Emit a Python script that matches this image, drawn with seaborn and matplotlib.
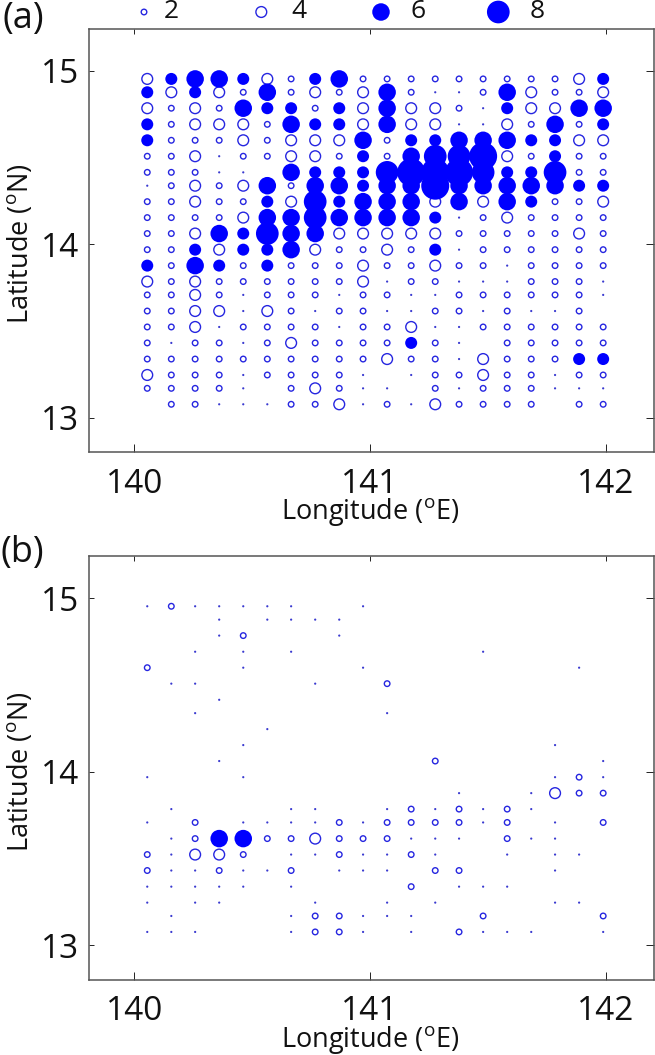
import matplotlib
matplotlib.use("Agg")
import matplotlib.pyplot as plt
import pandas as pd
import seaborn as sns

sns.set_style("white")
plt.rcParams["font.family"] = ["Open Sans", "DejaVu Sans"]
plt.rcParams["mathtext.default"] = "regular"

lons = [140.055, 140.157, 140.258, 140.360, 140.462, 140.564, 140.665, 140.767, 140.869, 140.970,
        141.072, 141.174, 141.276, 141.377, 141.479, 141.581, 141.683, 141.784, 141.886, 141.988]
lats = [14.954, 14.877, 14.785, 14.692, 14.600, 14.508, 14.415, 14.338, 14.246, 14.154, 14.062,
        13.969, 13.877, 13.785, 13.708, 13.615, 13.523, 13.431, 13.338, 13.246, 13.169, 13.077]

# magnitude per grid cell, top row first (0 = nothing there)
counts_a = [
    [4, 5, 6, 6, 5, 4, 2, 5, 6, 2, 2, 2, 2, 2, 2, 2, 2, 2, 4, 5],
    [5, 4, 5, 4, 2, 6, 2, 4, 2, 4, 6, 2, 1, 1, 2, 6, 4, 2, 2, 4],
    [4, 2, 4, 2, 6, 5, 5, 2, 5, 4, 6, 4, 4, 2, 1, 5, 4, 4, 6, 6],
    [5, 2, 4, 4, 4, 2, 6, 5, 5, 4, 6, 4, 4, 1, 1, 4, 2, 6, 2, 5],
    [5, 2, 2, 2, 4, 2, 4, 4, 4, 6, 2, 5, 5, 6, 6, 6, 5, 5, 4, 4],
    [2, 2, 4, 1, 2, 2, 4, 4, 2, 5, 2, 6, 8, 8, 10, 4, 2, 5, 2, 2],
    [2, 2, 2, 1, 1, 0, 6, 5, 5, 5, 8, 10, 10, 10, 8, 5, 5, 8, 2, 2],
    [1, 2, 4, 2, 4, 6, 2, 6, 6, 5, 6, 6, 10, 6, 6, 6, 6, 6, 5, 5],
    [2, 2, 4, 2, 2, 5, 4, 8, 5, 6, 6, 6, 4, 6, 4, 6, 5, 2, 2, 4],
    [2, 2, 2, 2, 4, 6, 6, 8, 6, 6, 6, 6, 5, 1, 2, 4, 2, 2, 2, 2],
    [2, 2, 4, 6, 5, 8, 6, 6, 4, 4, 4, 4, 4, 2, 2, 2, 2, 2, 4, 2],
    [2, 2, 5, 4, 5, 5, 6, 4, 2, 2, 4, 2, 5, 1, 2, 2, 2, 2, 2, 2],
    [5, 2, 6, 5, 2, 5, 2, 2, 2, 4, 2, 2, 4, 2, 2, 1, 2, 2, 2, 2],
    [4, 2, 4, 2, 2, 2, 2, 2, 2, 4, 1, 2, 2, 1, 1, 1, 2, 2, 2, 1],
    [2, 2, 4, 2, 1, 2, 2, 2, 1, 2, 2, 1, 1, 2, 2, 2, 2, 2, 2, 1],
    [2, 2, 4, 4, 1, 4, 2, 1, 2, 2, 1, 1, 2, 2, 1, 2, 1, 1, 2, 0],
    [2, 2, 4, 1, 2, 2, 2, 2, 1, 2, 2, 4, 1, 1, 2, 2, 2, 2, 2, 2],
    [2, 1, 2, 2, 1, 2, 4, 2, 2, 2, 2, 5, 2, 1, 0, 2, 2, 2, 2, 2],
    [2, 2, 2, 2, 2, 2, 2, 2, 2, 2, 4, 2, 2, 1, 4, 2, 2, 2, 5, 5],
    [4, 2, 2, 2, 1, 2, 2, 2, 2, 1, 0, 1, 2, 2, 4, 2, 2, 1, 2, 2],
    [2, 2, 2, 2, 1, 0, 2, 4, 2, 1, 1, 0, 2, 1, 2, 2, 2, 1, 1, 1],
    [0, 2, 2, 1, 1, 1, 2, 2, 4, 1, 2, 1, 4, 2, 2, 2, 2, 0, 2, 2],
]
counts_b = [
    [1, 2, 1, 1, 1, 1, 1, 0, 0, 1, 0, 0, 0, 0, 0, 0, 0, 0, 0, 0],
    [0, 0, 0, 1, 0, 1, 1, 1, 1, 0, 0, 0, 0, 0, 0, 0, 0, 0, 0, 0],
    [0, 0, 0, 1, 2, 0, 0, 0, 1, 0, 0, 0, 0, 0, 0, 0, 0, 0, 0, 0],
    [0, 0, 1, 0, 1, 0, 1, 0, 0, 0, 0, 0, 0, 0, 1, 0, 0, 0, 0, 0],
    [2, 0, 0, 0, 1, 0, 0, 0, 0, 1, 0, 0, 0, 0, 0, 0, 0, 0, 1, 0],
    [0, 1, 1, 0, 0, 0, 0, 1, 0, 0, 2, 0, 0, 0, 0, 0, 0, 0, 0, 0],
    [0, 0, 0, 1, 0, 0, 0, 0, 0, 0, 0, 0, 0, 0, 0, 0, 0, 0, 0, 0],
    [0, 0, 1, 0, 0, 0, 0, 0, 0, 0, 1, 0, 0, 0, 0, 0, 0, 0, 0, 0],
    [0, 0, 0, 0, 0, 1, 0, 0, 0, 0, 0, 0, 0, 0, 0, 0, 0, 0, 0, 0],
    [0, 0, 0, 0, 1, 0, 0, 0, 0, 0, 0, 0, 0, 0, 0, 0, 0, 1, 0, 0],
    [0, 0, 0, 1, 0, 0, 0, 0, 0, 0, 0, 0, 2, 0, 0, 0, 0, 0, 0, 1],
    [1, 0, 0, 0, 1, 0, 0, 0, 0, 0, 0, 0, 0, 0, 0, 0, 0, 1, 2, 1],
    [0, 0, 0, 0, 0, 0, 0, 0, 0, 0, 0, 0, 0, 1, 0, 0, 1, 4, 2, 2],
    [0, 1, 0, 0, 0, 0, 1, 1, 0, 0, 1, 2, 1, 2, 1, 2, 1, 0, 0, 0],
    [1, 0, 2, 0, 1, 1, 1, 1, 2, 1, 2, 2, 2, 2, 1, 2, 0, 1, 0, 2],
    [0, 1, 2, 6, 6, 2, 2, 4, 2, 2, 2, 1, 1, 1, 0, 2, 1, 1, 0, 0],
    [2, 1, 4, 4, 2, 0, 1, 1, 2, 1, 1, 2, 1, 0, 0, 1, 0, 1, 1, 0],
    [2, 1, 1, 2, 1, 1, 2, 0, 1, 1, 1, 0, 2, 2, 0, 0, 0, 1, 0, 0],
    [1, 1, 1, 1, 1, 0, 1, 0, 0, 0, 0, 2, 0, 1, 1, 1, 0, 0, 0, 0],
    [1, 0, 1, 1, 0, 0, 0, 1, 0, 0, 1, 0, 1, 0, 0, 0, 0, 1, 1, 0],
    [0, 1, 0, 0, 0, 0, 1, 2, 2, 1, 1, 1, 0, 0, 2, 0, 0, 0, 0, 2],
    [1, 1, 1, 0, 0, 0, 1, 2, 2, 1, 0, 1, 0, 2, 1, 1, 1, 0, 0, 1],
]
legend_values = [2, 4, 6, 8]

W, H = 655, 1055
DOT, RING, SOLID = "#3a3ad0", "#2626e0", "#0000ff"


def px2(d):
    return (d * 0.72) ** 2


area = {1: px2(2.2), 2: px2(5.6), 4: px2(10.8), 5: px2(12), 6: px2(17.5), 8: px2(22.7), 10: px2(28)}


def to_frame(grid):
    rows = []
    for lat, row in zip(lats, grid):
        for lon, c in zip(lons, row):
            if c > 0:
                rows.append((lon, lat, c))
    return pd.DataFrame(rows, columns=["lon", "lat", "count"])


def draw_points(ax, df):
    # tiny dots, open rings and solid discs are three separate looks
    dots = df[df["count"] == 1]
    rings = df[df["count"].isin([2, 4])]
    solid = df[df["count"] >= 5]
    if len(dots):
        sns.scatterplot(data=dots, x="lon", y="lat", size="count", sizes=area, color=DOT,
                        linewidth=0, legend=False, ax=ax)
    if len(rings):
        sns.scatterplot(data=rings, x="lon", y="lat", size="count", sizes=area, facecolor="none",
                        edgecolor=RING, linewidth=1.0, legend=False, ax=ax)
    if len(solid):
        sns.scatterplot(data=solid, x="lon", y="lat", size="count", sizes=area, color=SOLID,
                        linewidth=0, legend=False, ax=ax)


def panel(fig, top, bottom, grid):
    ax = fig.add_axes([89 / W, 1 - bottom / H, (654 - 89) / W, (bottom - top) / H])
    draw_points(ax, to_frame(grid))
    ax.set_xlim(139.808, 142.2035)
    ax.set_ylim(12.8, 15.242)
    ax.set_xticks([140, 141, 142])
    ax.set_yticks([13, 14, 15])
    ax.tick_params(direction="in", length=3.6, width=0.7, color="#222222", labelsize=24,
                   top=True, right=True, bottom=True, left=True, labelcolor="#111111")
    ax.tick_params(axis="x", pad=11)
    ax.tick_params(axis="y", pad=7)
    # bottom and right ticks are longer than top and left ones in the source
    for t in ax.xaxis.get_major_ticks():
        t.tick1line.set_markersize(5.8)
    for t in ax.yaxis.get_major_ticks():
        t.tick2line.set_markersize(5.8)
    for s in ax.spines.values():
        s.set_color("#555555")
        s.set_linewidth(1.1)
    ax.set_xlabel("Longitude ($^{o}$E)", fontsize=19.5, color="#111111")
    ax.set_ylabel("Latitude ($^{o}$N)", fontsize=19.5, color="#111111")
    ax.xaxis.set_label_coords(0.4975, -0.103)
    ax.yaxis.set_label_coords(-0.095, 0.492)
    return ax


fig = plt.figure(figsize=(W / 100, H / 100), dpi=100)
panel(fig, 29, 452.3, counts_a)
panel(fig, 556.3, 980, counts_b)

# legend row and panel letters sit in an overlay measured in pixels
over = fig.add_axes([0, 0, 1, 1])
over.set_xlim(0, W)
over.set_ylim(H, 0)
over.axis("off")
key = pd.DataFrame({"lon": [144, 261.3, 381, 498.3], "lat": [12, 12, 12, 12], "count": legend_values})
draw_points(over, key)
for v, tx in zip(legend_values, [164, 291.5, 410, 530]):
    over.text(tx, 12, str(v), fontsize=19, ha="left", va="center", color="#111111")
over.text(3, 19, "(a)", fontsize=26, ha="left", va="center", color="#111111")
over.text(1, 553, "(b)", fontsize=26, ha="left", va="center", color="#111111")

fig.savefig("out.png", dpi=100)
